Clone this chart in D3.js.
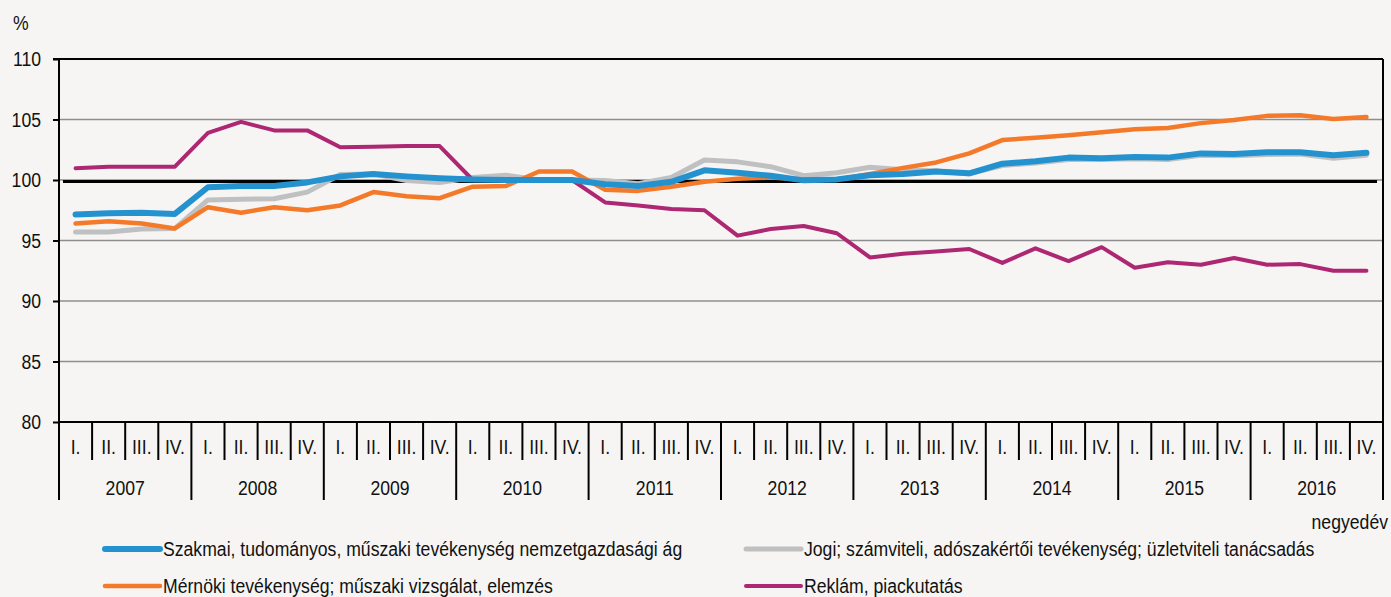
<!DOCTYPE html>
<html><head><meta charset="utf-8">
<script src="https://cdn.jsdelivr.net/npm/d3@7"></script>
<style>
html,body{margin:0;padding:0;background:#f6f5f3;}
svg{display:block;font-family:"Liberation Sans",Arial,sans-serif;}
svg text{font-family:"Liberation Sans",Arial,sans-serif;}
</style></head><body>
<svg id="c" width="1391" height="597"></svg>
<script>
const years = [2007,2008,2009,2010,2011,2012,2013,2014,2015,2016];
const quarterLabels = ["I.","II.","III.","IV."];
const yTicks = [80,85,90,95,100,105,110];
const seriesNames = [
  "Szakmai, tudományos, műszaki tevékenység nemzetgazdasági ág",
  "Jogi; számviteli, adószakértői tevékenység; üzletviteli tanácsadás",
  "Mérnöki tevékenység; műszaki vizsgálat, elemzés",
  "Reklám, piackutatás"
];
const szakmai = [97.15,97.25,97.3,97.2, 99.4,99.5,99.5,99.8, 100.3,100.5,100.3,100.15,
  100.05,100.0,100.0,100.0, 99.65,99.5,99.85,100.8, 100.6,100.35,99.97,100.05,
  100.4,100.5,100.7,100.55, 101.35,101.55,101.85,101.8, 101.9,101.85,102.2,102.15,
  102.3,102.3,102.05,102.25];
const jogi = [95.7,95.7,95.95,96.0, 98.35,98.4,98.45,99.0, 100.45,100.5,99.95,99.8,
  100.2,100.4,100.0,100.0, 99.95,99.7,100.2,101.65, 101.5,101.1,100.35,100.6,
  101.05,100.85,100.75,100.5, 101.2,101.4,101.7,101.7, 101.75,101.7,102.05,102.0,
  102.1,102.15,101.8,102.05];
const mernoki = [96.4,96.6,96.4,96.0, 97.75,97.3,97.75,97.5, 97.9,99.0,98.65,98.5,
  99.45,99.5,100.7,100.7, 99.2,99.1,99.45,99.85, 100.1,100.2,100.05,100.05,
  100.5,101.0,101.45,102.2, 103.3,103.5,103.7,103.95, 104.2,104.3,104.7,104.95,
  105.3,105.35,105.05,105.2];
const reklam = [100.97,101.1,101.1,101.1, 103.9,104.8,104.1,104.1, 102.7,102.75,102.8,102.8,
  100.0,100.0,100.0,100.0, 98.15,97.9,97.6,97.5, 95.4,95.95,96.2,95.6,
  93.6,93.9,94.1,94.3, 93.15,94.35,93.3,94.45, 92.75,93.2,93.0,93.55,
  93.0,93.05,92.5,92.5];
const refValue = 100;

const categories = [];
years.forEach(y => quarterLabels.forEach(q => categories.push(y + " " + q)));

const svg = d3.select("#c");
const L = 59, R = 1383, T = 59, B = 422;
const x = d3.scaleBand().domain(categories).range([L, R]);
const y = d3.scaleLinear().domain([80, 110]).range([B, T]);
const cx = c => x(c) + x.bandwidth() / 2;
const FS = 21;
const NARROW = 0.84;

// gridlines
svg.append("g").selectAll("line").data(yTicks.filter(v => v > 80 && v < 110)).join("line")
  .attr("x1", L).attr("x2", R).attr("y1", d => y(d)).attr("y2", d => y(d))
  .attr("stroke", "#8e8e8e").attr("stroke-width", 1.5);

// y axis
const yAxis = svg.append("g").attr("transform", `translate(${L},0)`)
  .call(d3.axisLeft(y).tickValues(yTicks).tickSize(6).tickPadding(12));
yAxis.attr("font-family", null).attr("font-size", null);
yAxis.select(".domain").remove();
yAxis.selectAll("line").attr("stroke", "#000").attr("stroke-width", 2);
yAxis.selectAll("text").attr("font-size", FS).attr("fill", "#111");

// frame
svg.append("line").attr("x1", L - 6).attr("x2", R).attr("y1", T).attr("y2", T).attr("stroke", "#000").attr("stroke-width", 2);
svg.append("line").attr("x1", R).attr("x2", R).attr("y1", T).attr("y2", 500).attr("stroke", "#000").attr("stroke-width", 2);
svg.append("line").attr("x1", L).attr("x2", L).attr("y1", T).attr("y2", 500).attr("stroke", "#000").attr("stroke-width", 2);
svg.append("line").attr("x1", L).attr("x2", R).attr("y1", B).attr("y2", B).attr("stroke", "#000").attr("stroke-width", 2);

// x axis: quarter separators & labels
const xg = svg.append("g");
xg.selectAll("line.q").data(categories).join("line").attr("class", "q")
  .attr("x1", d => x(d)).attr("x2", d => x(d))
  .attr("y1", B).attr("y2", (d, i) => i % 4 === 0 ? 500 : 460)
  .attr("stroke", "#000").attr("stroke-width", 2);
xg.selectAll("text.q").data(categories).join("text").attr("class", "q")
  .attr("x", d => cx(d)).attr("y", 447).attr("dy", "0.35em")
  .attr("text-anchor", "middle").attr("font-size", FS).attr("fill", "#111")
  .text((d, i) => quarterLabels[i % 4]);
xg.selectAll("text.y").data(years).join("text").attr("class", "y")
  .attr("x", (d, i) => (x(categories[i * 4]) + x(categories[i * 4 + 3]) + x.bandwidth()) / 2)
  .attr("y", 488).attr("dy", "0.35em")
  .attr("text-anchor", "middle").attr("font-size", FS).attr("fill", "#111")
  .text(d => d);

svg.append("text").attr("x", 1388).attr("y", 522).attr("dy", "0.35em").attr("text-anchor", "end")
  .attr("font-size", FS).attr("fill", "#111").text("negyedév");
svg.append("text").attr("x", 13).attr("y", 23).attr("dy", "0.35em")
  .attr("font-size", FS).attr("fill", "#111").text("%");

// reference line at 100
svg.append("line").attr("x1", L + 4).attr("x2", R - 6)
  .attr("y1", y(refValue) + 1.5).attr("y2", y(refValue) + 1.5)
  .attr("stroke", "#000").attr("stroke-width", 3);

const colors = ["#2492cf", "#bfc0c2", "#f47a29", "#ad2772"];
const widths = [6, 5, 4.5, 4];
const data = [szakmai, jogi, mernoki, reklam];
const line = d3.line().x((d, i) => cx(categories[i])).y(d => y(d));
const order = [1, 2, 3, 0];
order.forEach(k => {
  svg.append("path").datum(data[k]).attr("d", line)
    .attr("fill", "none").attr("stroke", colors[k]).attr("stroke-width", widths[k])
    .attr("stroke-linejoin", "round").attr("stroke-linecap", "round");
});

// legend
const legPos = [[105, 549], [746, 549], [105, 586], [746, 586]];
const lg = svg.append("g");
seriesNames.forEach((n, k) => {
  const [lx, ly] = legPos[k];
  lg.append("line").attr("x1", lx).attr("x2", lx + 55).attr("y1", ly).attr("y2", ly)
    .attr("stroke", colors[k]).attr("stroke-width", widths[k]).attr("stroke-linecap", "round");
  lg.append("text").attr("x", lx + 58).attr("y", ly).attr("dy", "0.35em")
    .attr("font-size", FS).attr("fill", "#111").text(n);
});

// condense all text horizontally (narrow typeface look) via transform around its anchor
svg.selectAll("text").each(function () {
  const s = d3.select(this);
  const tx = +(s.attr("x") || 0), ty = +(s.attr("y") || 0);
  s.attr("x", 0).attr("y", 0)
   .attr("transform", `translate(${tx},${ty}) scale(${NARROW},1)`);
});
</script></body></html>
